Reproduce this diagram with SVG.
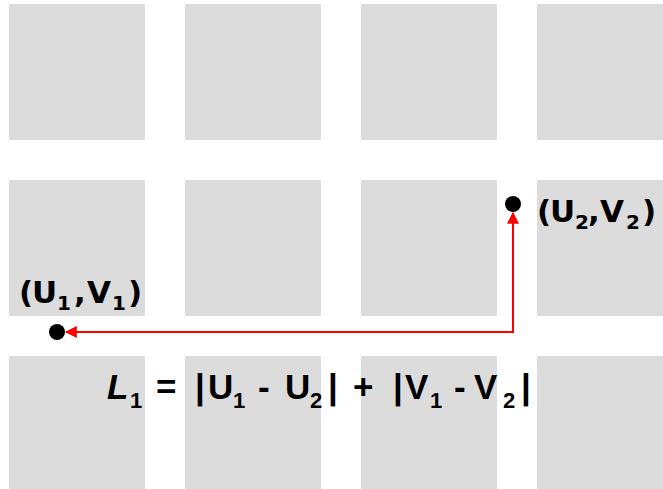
<svg xmlns="http://www.w3.org/2000/svg" width="663" height="489" viewBox="0 0 663 489">
<style>
.cell{fill:#dcdcdc}
.lbl{font-family:"DejaVu Sans",Verdana,sans-serif;font-weight:bold;font-size:31px;fill:#000}
.lbl .sub{font-size:20px}
.fml{font-family:"Liberation Sans",Arial,sans-serif;font-weight:bold;font-size:35px;fill:#000}
.fml .sub{font-size:22px}
.dot{fill:#000}
.conn{fill:none;stroke:#ff0000;stroke-width:2}
</style>
<defs>
<marker id="ah" viewBox="0 0 10 10" refX="9" refY="5" markerWidth="6" markerHeight="6" orient="auto-start-reverse">
<path d="M0,0 L10,5 L0,10 z" fill="#ff0000"/>
</marker>
</defs>
<rect width="663" height="489" fill="#fff"/>
<g id="grid">
<rect class="cell" x="9" y="4" width="136" height="136"/>
<rect class="cell" x="185" y="4" width="136" height="136"/>
<rect class="cell" x="361" y="4" width="136" height="136"/>
<rect class="cell" x="537" y="4" width="136" height="136"/>
<rect class="cell" x="9" y="180" width="136" height="136"/>
<rect class="cell" x="185" y="180" width="136" height="136"/>
<rect class="cell" x="361" y="180" width="136" height="136"/>
<rect class="cell" x="537" y="180" width="136" height="136"/>
<rect class="cell" x="9" y="356" width="136" height="136"/>
<rect class="cell" x="185" y="356" width="136" height="136"/>
<rect class="cell" x="361" y="356" width="136" height="136"/>
<rect class="cell" x="537" y="356" width="136" height="136"/>
</g>
<g id="connectors">
<path class="conn" d="M513,213 L513,332 L66,332" marker-start="url(#ah)" marker-end="url(#ah)"/>
</g>
<g id="p1">
<circle class="dot" cx="57" cy="332" r="8"/>
<text class="lbl" y="303"><tspan x="19">(</tspan><tspan x="32">U</tspan><tspan class="sub" x="57" y="310">1</tspan><tspan x="74" y="303">,</tspan><tspan x="87">V</tspan><tspan class="sub" x="112" y="310">1</tspan><tspan x="128" y="303">)</tspan></text>
</g>
<g id="p2">
<circle class="dot" cx="513" cy="204" r="8"/>
<text class="lbl" y="222"><tspan x="537">(</tspan><tspan x="550">U</tspan><tspan class="sub" x="575" y="229">2</tspan><tspan x="588" y="222">,</tspan><tspan x="600">V</tspan><tspan class="sub" x="626" y="229">2</tspan><tspan x="642" y="222">)</tspan></text>
</g>
<g id="formula">
<text class="fml" y="399"><tspan x="107" font-style="italic">L</tspan><tspan class="sub" x="130" y="408">1</tspan><tspan x="156" y="399">=</tspan><tspan x="195">|</tspan><tspan x="208">U</tspan><tspan class="sub" x="233" y="408">1</tspan><tspan x="258" y="399">-</tspan><tspan x="285">U</tspan><tspan class="sub" x="310" y="408">2</tspan><tspan x="328" y="399">|</tspan><tspan x="353">+</tspan><tspan x="393">|</tspan><tspan x="405">V</tspan><tspan class="sub" x="430" y="408">1</tspan><tspan x="454" y="399">-</tspan><tspan x="474">V</tspan><tspan class="sub" x="503" y="408">2</tspan><tspan x="521" y="399">|</tspan></text>
</g>
</svg>
